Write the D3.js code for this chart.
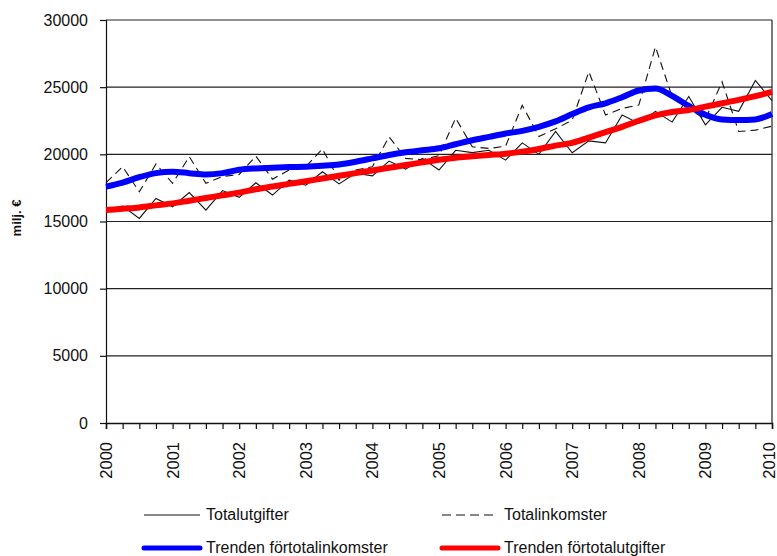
<!DOCTYPE html>
<html><head><meta charset="utf-8">
<script src="https://cdn.jsdelivr.net/npm/d3@7"></script>
<style>
html,body{margin:0;padding:0;background:#fff;}
svg text{font-family:"Liberation Sans",Arial,sans-serif;fill:#111;}
</style></head>
<body>
<svg id="chart" width="777" height="556"></svg>
<script>
// Quarterly data, 2000Q1 .. 2010Q1 (41 points)
const years = ["2000","2001","2002","2003","2004","2005","2006","2007","2008","2009","2010"];
const yTicks = [0,5000,10000,15000,20000,25000,30000];

const totalutgifter = [15900,16150,15230,16720,16100,17150,15850,17300,16800,17880,
  16970,18080,17700,18700,17800,18600,18400,19500,18900,19700,
  18830,20300,20130,20300,19570,20850,20000,21700,20120,21000,
  20850,22930,22300,23200,22400,24300,22200,23500,23200,25500,24000];

const totalinkomster = [17900,19080,17210,19280,17840,19830,17840,18350,18500,19870,
  18150,18830,19080,20400,18080,18830,19080,21300,19700,19600,
  19900,22700,20560,20440,20600,23650,21330,21900,22550,26150,
  22930,23420,23670,28000,24300,23400,22600,25400,21700,21800,22100];

const trendInkomster = [17600,17900,18300,18600,18700,18600,18500,18600,18850,18950,
  19000,19050,19080,19150,19250,19450,19700,19950,20150,20300,
  20450,20750,21050,21300,21550,21750,22050,22450,23000,23500,
  23800,24250,24750,24900,24350,23600,22950,22600,22550,22600,23000];

const trendUtgifter = [15850,15950,16050,16200,16350,16550,16750,16950,17150,17400,
  17600,17800,18000,18200,18400,18600,18800,19000,19200,19400,
  19600,19750,19850,19950,20050,20200,20400,20650,20850,21250,
  21650,22050,22500,22900,23150,23300,23550,23800,24050,24330,24650];

const legendLabels = ["Totalutgifter","Totalinkomster","Trenden förtotalinkomster","Trenden förtotalutgifter"];

const svg = d3.select("#chart");
const X0 = 106, X1 = 772, Y0 = 20, Y1 = 423;
const n = totalutgifter.length;
const x = d3.scaleLinear().domain([0, n-1]).range([X0, X1]);
const y = d3.scaleLinear().domain([0, 30000]).range([Y1, Y0]);

// gridlines
svg.append("g").selectAll("line").data(yTicks.filter(d=>d>0)).join("line")
  .attr("x1", X0).attr("x2", X1).attr("y1", d=>y(d)).attr("y2", d=>y(d))
  .attr("stroke", "#222").attr("stroke-width", 1.2);
// right border
svg.append("line").attr("x1", X1).attr("x2", X1).attr("y1", Y0).attr("y2", Y1)
  .attr("stroke", "#222").attr("stroke-width", 1.2);

// y axis
const yAxis = d3.axisLeft(y).tickValues(yTicks).tickSize(6).tickPadding(12).tickFormat(d3.format("d"));
const gy = svg.append("g").attr("transform", `translate(${X0},0)`).call(yAxis);
gy.select(".domain").attr("stroke", "#111").attr("stroke-width", 1.2);
gy.selectAll(".tick line").attr("stroke", "#111").attr("stroke-width", 1.2);
gy.selectAll(".tick text").attr("font-size", "16px").attr("fill", "#111")
  .attr("font-family", "Liberation Sans, Arial, sans-serif");

// x axis (quarterly ticks)
const xAxis = d3.axisBottom(x).tickValues(d3.range(0, n)).tickSize(6).tickFormat("");
const gx = svg.append("g").attr("transform", `translate(0,${Y1})`).call(xAxis);
gx.select(".domain").attr("stroke", "#111").attr("stroke-width", 1.5);
gx.selectAll(".tick line").attr("stroke", "#111").attr("stroke-width", 1.2);

// year labels
svg.append("g").selectAll("text").data(years).join("text")
  .attr("transform", (d,i)=>`translate(${Math.min(x(i*4)+6, 775)},442) rotate(-90)`)
  .attr("text-anchor", "end").attr("font-size", "16.5px").text(d=>d);

// y title
svg.append("text").attr("transform", "translate(21,218) rotate(-90)")
  .attr("text-anchor", "middle").attr("font-size", "13px").attr("font-weight", "bold")
  .text("milj. €");

const line = d3.line().x((d,i)=>x(i)).y(d=>y(d));
const plot = svg.append("g");
plot.append("path").attr("d", line(totalutgifter)).attr("fill","none")
  .attr("stroke","#111").attr("stroke-width",1.1);
plot.append("path").attr("d", line(totalinkomster)).attr("fill","none")
  .attr("stroke","#111").attr("stroke-width",1.1).attr("stroke-dasharray","8,5");
plot.append("path").attr("d", line.curve(d3.curveMonotoneX)(trendInkomster)).attr("fill","none")
  .attr("stroke","#0000ff").attr("stroke-width",6).attr("stroke-linejoin","round");
plot.append("path").attr("d", line.curve(d3.curveMonotoneX)(trendUtgifter)).attr("fill","none")
  .attr("stroke","#ff0000").attr("stroke-width",6).attr("stroke-linejoin","round");

// legend
const leg = [
  {lx:144, ly:515, stroke:"#111", w:1.2, dash:null, label:legendLabels[0]},
  {lx:442, ly:515, stroke:"#111", w:1.2, dash:"9,5", label:legendLabels[1]},
  {lx:144, ly:548, stroke:"#0000ff", w:5, dash:null, label:legendLabels[2]},
  {lx:442, ly:548, stroke:"#ff0000", w:5, dash:null, label:legendLabels[3]}
];
const lg = svg.append("g").selectAll("g").data(leg).join("g");
lg.append("line").attr("x1", d=>d.lx).attr("x2", d=>d.lx+56).attr("y1", d=>d.ly).attr("y2", d=>d.ly)
  .attr("stroke", d=>d.stroke).attr("stroke-width", d=>d.w)
  .attr("stroke-dasharray", d=>d.dash).attr("stroke-linecap", d=>d.w>2?"round":"butt");
lg.append("text").attr("x", d=>d.lx+62).attr("y", d=>d.ly+5).attr("font-size","16px").text(d=>d.label);
</script>
</body></html>
